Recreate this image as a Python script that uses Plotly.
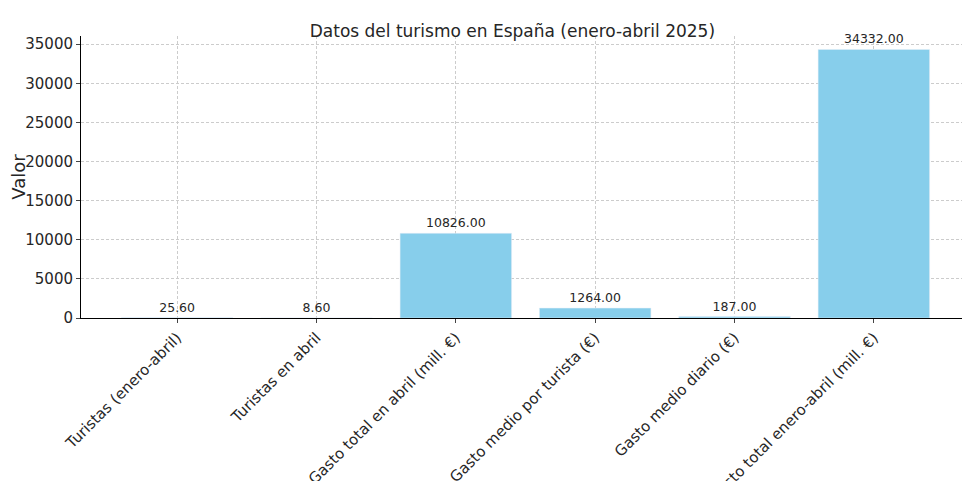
import plotly.graph_objects as go

categories = ["Turistas (enero-abril)", "Turistas en abril", "Gasto total en abril (mill. €)",
              "Gasto medio por turista (€)", "Gasto medio diario (€)", "Gasto total enero-abril (mill. €)"]
values = [25.60, 8.60, 10826.00, 1264.00, 187.00, 34332.00]

fig = go.Figure(go.Bar(
    x=categories, y=values, marker_color="#87CEEB", width=0.8,
    text=[f"{v:.2f}" for v in values], textposition="outside", cliponaxis=False,
    textfont=dict(size=12.5, color="#262626"),
))
fig.update_layout(
    width=970, height=481, plot_bgcolor="white", paper_bgcolor="white",
    font=dict(family="DejaVu Sans", size=15, color="#262626"),
    title=dict(text="Datos del turismo en España (enero-abril 2025)", x=0.52, y=0.965,
               xanchor="center", font=dict(size=17), automargin=False),
    margin=dict(l=73, r=8, t=28, b=171, autoexpand=False),
    showlegend=False, bargap=0.2,
)
fig.update_xaxes(range=[-0.69, 5.69], tickangle=-45, showline=True, linecolor="black",
                 ticks="outside", ticklen=4, showgrid=True, gridcolor="#cccccc",
                 griddash="3px,2px", automargin=False)
fig.update_yaxes(range=[0, 36050], dtick=5000, tickformat="d", title_text="Valor",
                 title_standoff=8, showline=True, linecolor="black", ticks="outside", ticklen=4,
                 showgrid=True, gridcolor="#cccccc", griddash="3px,2px", zeroline=False,
                 automargin=False)
fig.write_html("out.html")
